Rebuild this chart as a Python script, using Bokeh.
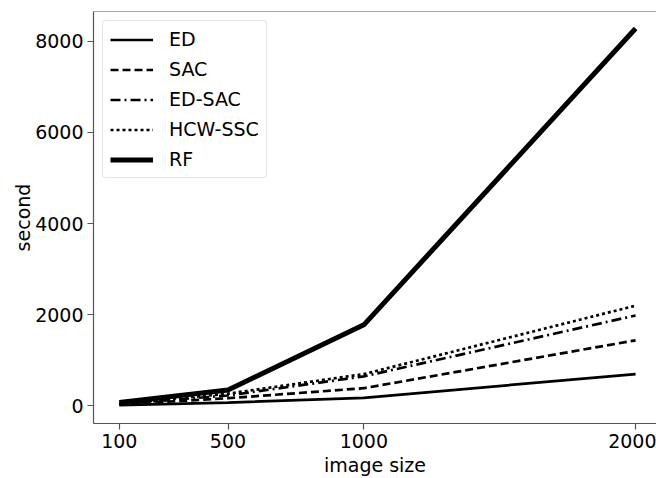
from bokeh.plotting import figure
from bokeh.models import Range1d, FixedTicker, Span
from bokeh.embed import file_html
from bokeh.resources import INLINE

sizes = [100, 500, 1000, 2000]
ed = [20, 75, 180, 700]
sac = [35, 170, 390, 1440]
ed_sac = [45, 230, 650, 1985]
hcw_ssc = [50, 270, 700, 2200]
rf = [75, 350, 1780, 8280]
y_ticks = [0, 2000, 4000, 6000, 8000]

FONT = "DejaVu Sans"
AX = "#555555"

p = figure(width=656, height=478, output_backend="svg", toolbar_location=None,
           x_range=Range1d(5, 2077), y_range=Range1d(-384, 8652),
           min_border_left=93, min_border_right=0, min_border_top=11, min_border_bottom=53)
p.outline_line_color = None
p.xgrid.visible = False
p.ygrid.visible = False

p.line(sizes, ed, line_color="black", line_width=2.7, legend_label="ED")
p.line(sizes, sac, line_color="black", line_width=2.7, line_dash="8 4", legend_label="SAC")
p.line(sizes, ed_sac, line_color="black", line_width=2.7, line_dash="10 4 2 4", legend_label="ED-SAC")
p.line(sizes, hcw_ssc, line_color="black", line_width=2.7, line_dash="3 3", legend_label="HCW-SSC")
p.line(sizes, rf, line_color="black", line_width=5, legend_label="RF")

p.add_layout(Span(location=8652, dimension="width", line_color=AX, line_width=1.2))

for ax in (p.xaxis[0], p.yaxis[0]):
    ax.axis_line_color = AX
    ax.axis_line_width = 1.2
    ax.major_tick_line_color = AX
    ax.major_tick_line_width = 1.2
    ax.major_tick_out = 6
    ax.major_tick_in = 0
    ax.minor_tick_line_color = None
    ax.major_label_text_font = FONT
    ax.major_label_text_font_size = "19px"
    ax.major_label_text_color = "black"
    ax.axis_label_text_font = FONT
    ax.axis_label_text_font_size = "19px"
    ax.axis_label_text_font_style = "normal"
    ax.axis_label_text_color = "black"
    ax.major_label_standoff = 4
    ax.axis_label_standoff = 3

p.yaxis[0].axis_label_standoff = -2
p.xaxis[0].ticker = FixedTicker(ticks=sizes)
p.yaxis[0].ticker = FixedTicker(ticks=y_ticks)
p.xaxis[0].axis_label = "image size"
p.yaxis[0].axis_label = "second"

lg = p.legend[0]
lg.location = "top_left"
lg.margin = 9
lg.padding = 7
lg.spacing = 8
lg.label_height = 21
lg.glyph_height = 21
lg.glyph_width = 43
lg.label_standoff = 16
lg.label_text_font = FONT
lg.label_text_font_size = "19px"
lg.label_text_color = "black"
lg.border_line_color = "#cccccc"
lg.border_line_width = 1
lg.background_fill_alpha = 0.8
lg.border_radius = 4

open("out.html", "w").write(file_html(p, INLINE))
